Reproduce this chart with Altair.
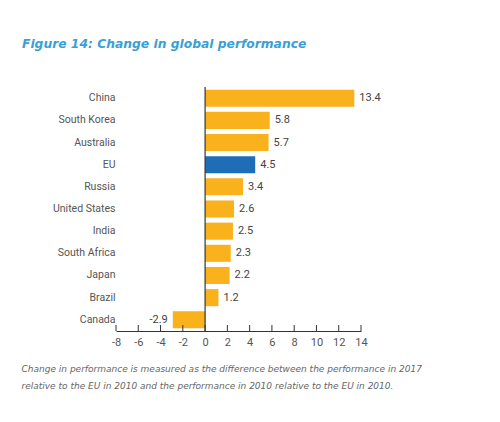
import altair as alt
import pandas as pd

# ------------------------------------------------------------------ data
COUNTRIES = ["China", "South Korea", "Australia", "EU", "Russia",
             "United States", "India", "South Africa", "Japan", "Brazil",
             "Canada"]
CHANGE = [13.4, 5.8, 5.7, 4.5, 3.4, 2.6, 2.5, 2.3, 2.2, 1.2, -2.9]
X_TICKS = [-8, -6, -4, -2, 0, 2, 4, 6, 8, 10, 12, 14]

TITLE = "Figure 14: Change in global performance"
NOTE = [
    "Change in performance is measured as the difference between the performance in 2017",
    "relative to the EU in 2010 and the performance in 2010 relative to the EU in 2010.",
]

# ---------------------------------------------------------------- styles
ORANGE = "#f9b11c"
BLUE = "#1f6db5"
INK = "#333333"
LABEL = "#555555"
TITLE_BLUE = "#3a9fd5"
FONT = "Roboto"

W, H = 245, 244

df = pd.DataFrame({"country": COUNTRIES, "change": CHANGE})
df["label"] = [f"{v:.1f}" for v in CHANGE]
df["is_eu"] = [c == "EU" for c in COUNTRIES]
ticks = pd.DataFrame({"t": X_TICKS})

xs = alt.Scale(domain=[-8, 14], nice=False, zero=False)
ys = alt.Scale(paddingInner=0.23, paddingOuter=0.12)

# one axis definition shared by every layer so the merge keeps it intact
X_AXIS = alt.Axis(
    values=X_TICKS, ticks=False, grid=False, domainColor=INK,
    labelColor=LABEL, labelFontSize=11, labelFont=FONT, labelPadding=5,
    labelFlush=False, labelOverlap=False, labelExpr="datum.value + ''",
    title=NOTE, titleFont="DejaVu Sans", titleFontStyle="italic",
    titleFontWeight="normal", titleFontSize=9.0, titleColor="#666666",
    titleAnchor="start", titleAlign="left", titleX=-95, titleY=33,
    titleLineHeight=17, titleBaseline="top")
Y_AXIS = alt.Axis(
    title=None, ticks=False, domain=False, labelColor=LABEL,
    labelFontSize=10.5, labelFont=FONT, labelPadding=1)


def xq(field):
    return alt.X(field, scale=xs, axis=X_AXIS)


def yn():
    return alt.Y("country:N", sort=COUNTRIES, scale=ys, axis=Y_AXIS)


base = alt.Chart(df)

bars = base.mark_bar().encode(
    x=xq("change:Q"),
    x2=alt.datum(0),
    y=yn(),
    color=alt.Color("is_eu:N", scale=alt.Scale(domain=[False, True],
                                               range=[ORANGE, BLUE]),
                    legend=None),
)

pos_labels = base.transform_filter("datum.change >= 0").mark_text(
    align="left", dx=5, color="#444444", fontSize=11, font=FONT,
).encode(x=xq("change:Q"), y=yn(), text="label:N")

neg_labels = base.transform_filter("datum.change < 0").mark_text(
    align="right", dx=-5, color="#444444", fontSize=11, font=FONT,
).encode(x=xq("change:Q"), y=yn(), text="label:N")

zero_line = alt.Chart(pd.DataFrame({"z": [0]})).mark_rule(
    color=INK, strokeWidth=1.2,
).encode(x=xq("z:Q"), y=alt.value(0), y2=alt.value(H))

# upward tick marks on the x axis
tick_marks = alt.Chart(ticks).mark_rule(color=INK, strokeWidth=1).encode(
    x=xq("t:Q"), y=alt.value(H - 6), y2=alt.value(H),
)

chart = alt.layer(bars, zero_line, tick_marks, pos_labels, neg_labels).properties(
    width=W, height=H,
    autosize=alt.AutoSizeParams(type="none"),
    padding={"left": 108, "top": 79, "right": 131, "bottom": 90},
    title=alt.Title(
        TITLE, anchor="start", frame="group", dx=-94, offset=36,
        font="DejaVu Sans", fontSize=12.3, fontWeight="bold", fontStyle="italic",
        color=TITLE_BLUE,
    ),
    background="white",
).configure_view(stroke=None)

chart.save("out.html", embed_options={"renderer": "svg", "actions": False})
